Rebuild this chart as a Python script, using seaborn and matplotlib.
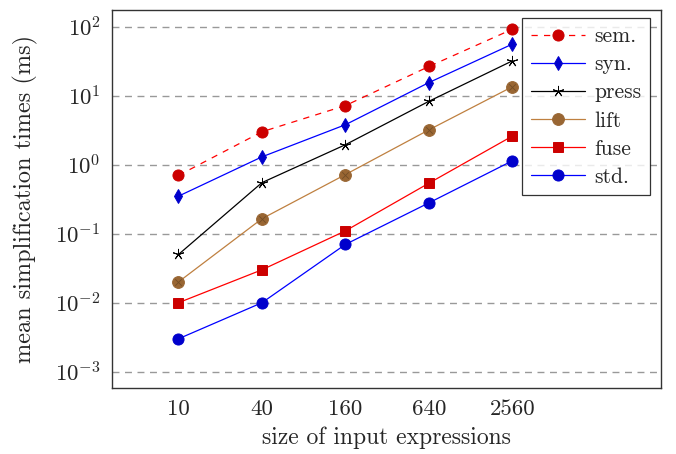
import numpy as np
import matplotlib
matplotlib.use('Agg')
import matplotlib.pyplot as plt
import seaborn as sns

sizes = ["10", "40", "160", "640", "2560"]

sem = [0.7, 3.0, 7.2, 26.5, 92.0]
syn = [0.35, 1.3, 3.8, 15.5, 56.0]
press = [0.05, 0.55, 1.95, 8.3, 32.0]
lift = [0.02, 0.165, 0.72, 3.2, 13.5]
fuse = [0.01, 0.03, 0.11, 0.54, 2.6]
std = [0.003, 0.01, 0.07, 0.28, 1.14]

sns.set_style("white")
plt.rcParams['font.family'] = ['cmr10', 'DejaVu Serif']
plt.rcParams['mathtext.fontset'] = 'cm'
plt.rcParams['axes.formatter.use_mathtext'] = True

fig = plt.figure(figsize=(6.76, 4.54), dpi=100)
ax = fig.add_axes([111.7/676, 1-388/454, (661-111.7)/676, (388-10)/454])

pos = np.arange(len(sizes))

# (label, values, line colour, marker, marker face, linestyle, marker size)
series = [
    ("sem.", sem, (1, 0, 0), "o", (0.8, 0, 0), (0, (5, 5)), 8),
    ("syn.", syn, (0, 0, 1), "d", (0, 0, 0.8), "-", 7),
    ("press", press, (0, 0, 0), (5, 2, 0), (0, 0, 0), "-", 8),
    ("lift", lift, (0.75, 0.5, 0.25), "o", (0.6, 0.4, 0.2), "-", 8.5),
    ("fuse", fuse, (1, 0, 0), "s", (0.8, 0, 0), "-", 7.5),
    ("std.", std, (0, 0, 1), "o", (0, 0, 0.8), "-", 8),
]

for lab, vals, lc, mk, mf, ls, ms in series:
    sns.lineplot(x=pos, y=vals, ax=ax, color=lc, linestyle=ls, lw=0.9,
                 marker=mk, markersize=ms, markerfacecolor=mf,
                 markeredgecolor=mf, markeredgewidth=0.7, label=lab)

# the cross inside the lift circles
sns.scatterplot(x=pos, y=lift, ax=ax, marker="x", s=22, color=(0.45, 0.3, 0.15),
                linewidth=0.6, legend=False, zorder=5)

ax.set_yscale("log")
ax.set_ylim(10**-3.236, 10**2.242)
ax.set_xlim(-0.80, 5.78)
ax.set_xticks(pos)
ax.set_xticklabels(sizes)
ax.set_yticks([1e-3, 1e-2, 1e-1, 1e0, 1e1, 1e2])
ax.yaxis.set_minor_locator(matplotlib.ticker.NullLocator())
ax.tick_params(axis='both', length=0, labelsize=16.5, pad=8)
ax.yaxis.grid(True, color="#999999", linestyle=(0, (5, 4)), lw=1)
ax.set_axisbelow(True)
for sp in ax.spines.values():
    sp.set_color("#333333")
    sp.set_linewidth(1)

ax.set_xlabel("size of input expressions", fontsize=17, labelpad=6)
ax.set_ylabel("mean simplification times (ms)", fontsize=17.5, labelpad=12)

leg = ax.legend(loc="upper right", bbox_to_anchor=((650-111.7)/549.3, (388-18)/378),
                borderaxespad=0, fontsize=15.5,
                frameon=True, fancybox=False, edgecolor="black",
                handlelength=2.5, labelspacing=0.4, borderpad=0.4,
                handletextpad=0.45)
leg.get_frame().set_linewidth(0.9)

plt.savefig("out.png", dpi=100)
